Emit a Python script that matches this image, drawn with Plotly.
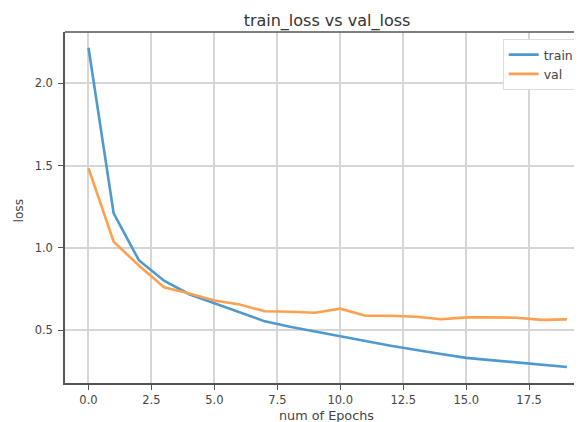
import plotly.graph_objects as go

epochs = list(range(20))
train_loss = [2.217, 1.21, 0.925, 0.80, 0.718, 0.662, 0.607, 0.553, 0.52, 0.49,
              0.463, 0.433, 0.405, 0.378, 0.354, 0.331, 0.318, 0.305, 0.291, 0.275]
val_loss = [1.484, 1.037, 0.893, 0.76, 0.722, 0.68, 0.655, 0.614, 0.611, 0.605,
            0.63, 0.587, 0.587, 0.581, 0.566, 0.577, 0.577, 0.575, 0.562, 0.565]
x_ticks = [0.0, 2.5, 5.0, 7.5, 10.0, 12.5, 15.0, 17.5]
x_tick_labels = ["0.0", "2.5", "5.0", "7.5", "10.0", "12.5", "15.0", "17.5"]
y_ticks = [0.5, 1.0, 1.5, 2.0]
y_tick_labels = ["0.5", "1.0", "1.5", "2.0"]

FONT = "DejaVu Sans"
TXT = "#444444"
W, H = 574, 414
L, T, B, R = 57, 24, 39, 0
PW, PH = W - L - R, H - T - B

fig = go.Figure()
fig.add_trace(go.Scatter(x=epochs, y=train_loss, mode="lines", name="train",
                         line=dict(color="#4e99cf", width=2.6)))
fig.add_trace(go.Scatter(x=epochs, y=val_loss, mode="lines", name="val",
                         line=dict(color="#ffa050", width=2.6)))

fig.update_layout(
    width=W, height=H,
    margin=dict(l=L, r=R, t=T, b=B, autoexpand=False),
    paper_bgcolor="white", plot_bgcolor="white",
    font=dict(family=FONT, color=TXT, size=11.5),
    title=dict(text="train_loss vs val_loss", x=319 / W, xanchor="center",
               y=1 - 12 / H, yanchor="middle",
               font=dict(family=FONT, size=16, color="#333333")),
    showlegend=True,
    legend=dict(x=(494.7 - L) / PW, y=0.98, xanchor="left", yanchor="top",
                bgcolor="white", bordercolor="#dddddd", borderwidth=1,
                font=dict(family=FONT, size=12.5, color=TXT),
                itemwidth=30, tracegroupgap=0),
    annotations=[
        dict(text="num of Epochs", xref="paper", yref="paper",
             x=(318.7 - L) / PW, y=0, xanchor="center", yanchor="middle",
             yshift=-32, showarrow=False,
             font=dict(family=FONT, size=12.8, color=TXT)),
        dict(text="loss", xref="paper", yref="paper", textangle=-90,
             x=0, y=(H - B - 202.5) / PH, xanchor="center", yanchor="middle",
             xshift=-(L - 10), showarrow=False,
             font=dict(family=FONT, size=12.2, color=TXT)),
    ],
)
fig.update_xaxes(
    range=[-0.933, 19.6], tickvals=x_ticks, ticktext=x_tick_labels,
    showgrid=True, gridcolor="#d6d6d6", gridwidth=1.5,
    showline=True, linecolor="#555555", linewidth=1.5,
    ticks="outside", ticklen=5, tickcolor="#555555",
    zeroline=False,
)
fig.update_yaxes(
    range=[0.178, 2.313], tickvals=y_ticks, ticktext=y_tick_labels,
    showgrid=True, gridcolor="#d6d6d6", gridwidth=1.5,
    showline=True, linecolor="#555555", linewidth=1.5,
    ticks="outside", ticklen=5, tickcolor="#555555",
    ticklabelstandoff=3,
    zeroline=False,
)
fig.add_shape(type="line", xref="paper", yref="paper", x0=0, x1=1, y0=1, y1=1,
              line=dict(color="#555555", width=1.5))

fig.write_html("out.html")
